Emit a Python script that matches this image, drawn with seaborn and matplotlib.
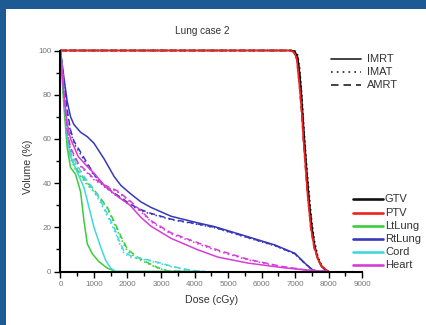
import numpy as np
import pandas as pd
import matplotlib
matplotlib.use("Agg")
import matplotlib.pyplot as plt
from matplotlib.lines import Line2D
from matplotlib.patches import Rectangle
from matplotlib.ticker import MultipleLocator
import seaborn as sns

# ---------------- data ----------------
structures = ["GTV", "PTV", "LtLung", "RtLung", "Cord", "Heart"]
plans = ["IMRT", "IMAT", "AMRT"]

gtv_dose = [0, 6900, 7000, 7080, 7140, 7200, 7250, 7300, 7360, 7430, 7500, 7580, 7680, 7800, 7900, 8000]
gtv_imrt = [100, 100, 99.5, 97, 90, 79, 67, 56, 44, 31, 21, 12.5, 6, 2.2, 0.7, 0]
gtv_imat = [100, 100, 99.8, 98, 92, 81, 69, 58, 46, 34, 23, 14, 7, 2.6, 0.8, 0]
gtv_amrt = [100, 100, 99.5, 96.5, 89, 77, 65, 54, 42, 30, 20, 11.5, 5.5, 2, 0.5, 0]

ptv_dose = [0, 6850, 6950, 7050, 7130, 7200, 7250, 7300, 7370, 7470, 7570, 7700, 7800, 7900, 8000]
ptv_imrt = [100, 100, 99.5, 96.5, 84.5, 72, 60, 50, 35.5, 20, 11, 5, 2.5, 1.2, 0]
ptv_imat = [100, 100, 99.6, 97, 85.5, 73, 61, 51, 36.5, 21, 11.5, 5.3, 2.6, 1.2, 0]
ptv_amrt = [100, 100, 99.3, 96, 84, 71, 59, 49, 35, 19.5, 10.5, 4.8, 2.3, 1.0, 0]

lt_dose = [0, 100, 200, 300, 450, 600, 700, 800, 950, 1150, 1400, 1650, 1800, 2000, 2300, 2600, 2900, 3200, 4000]
lt_imrt = [100, 75, 56, 47, 44, 36, 23, 12.5, 8, 4.4, 1.5, 0, 0, 0, 0, 0, 0, 0, 0]
lt_imat = [100, 78, 59, 51, 46, 43, 41, 39, 37, 33.5, 28.5, 20, 15, 9, 5.8, 3.6, 1.6, 0.2, 0]
lt_amrt = [100, 79, 60, 52, 47, 44, 42, 40, 38, 34, 29, 21, 16, 10, 6.5, 4, 1.8, 0.3, 0]

cord_dose = [0, 100, 200, 300, 500, 700, 850, 1000, 1200, 1350, 1500, 1650, 1750, 1900, 2100, 2600, 3000, 3300, 3700, 4000, 4300]
cord_imrt = [100, 80, 61, 52, 45, 38, 29, 20, 11, 5, 1.5, 0, 0, 0, 0, 0, 0, 0, 0, 0, 0]
cord_imat = [100, 81, 63, 53, 47, 42, 39, 36, 31, 26.5, 22, 17, 13, 8, 6.5, 5, 3.5, 2.2, 1, 0.3, 0]
cord_amrt = [100, 82, 64, 54, 48, 43, 40, 37, 32, 27.5, 23, 18, 14, 9, 7, 5.3, 3.8, 2.4, 1.1, 0.4, 0]

rt_dose = [0, 100, 200, 300, 400, 600, 800, 1000, 1300, 1600, 1800, 2074, 2400, 2700, 3300, 4100, 4600, 5600, 6400, 7000, 7300, 7500, 7650]
rt_imrt = [100, 88, 77, 70, 66.5, 63, 61, 58, 51, 43, 39, 35.4, 31.5, 29, 25, 22, 20.3, 15.7, 12, 8.2, 3.7, 1, 0]
rt_imat = [100, 85, 72, 63, 58, 53, 48, 43.5, 38.5, 35, 33, 30, 27.5, 26, 23.5, 21.3, 19.8, 15.2, 11.6, 7.9, 3.5, 0.9, 0]
rt_amrt = [100, 86, 73, 64, 59, 54, 49, 44, 39, 35.5, 33.5, 30.5, 28, 26.3, 23.7, 21.5, 20, 15.4, 11.8, 8, 3.6, 1, 0]

heart_dose = [0, 100, 200, 300, 530, 800, 1000, 1330, 1700, 2074, 2400, 2700, 3300, 4100, 4700, 5600, 6600, 7300, 8000]
heart_imrt = [100, 81, 67, 60, 52, 47.5, 44.5, 38.5, 34, 30, 24.5, 20.5, 15, 9.8, 6.5, 3.8, 1.8, 0.7, 0]
heart_imat = [100, 79, 63, 55, 48.5, 44.5, 41.5, 38.5, 36, 31.5, 27, 22.5, 17, 12.5, 9.2, 5.2, 2.1, 0.7, 0]
heart_amrt = [100, 80, 64, 56, 49, 45, 42, 39, 36.5, 32, 27.5, 23, 17.5, 13, 9.7, 5.5, 2.3, 0.8, 0]

series = {
    "GTV": (gtv_dose, gtv_imrt, gtv_imat, gtv_amrt),
    "PTV": (ptv_dose, ptv_imrt, ptv_imat, ptv_amrt),
    "LtLung": (lt_dose, lt_imrt, lt_imat, lt_amrt),
    "RtLung": (rt_dose, rt_imrt, rt_imat, rt_amrt),
    "Cord": (cord_dose, cord_imrt, cord_imat, cord_amrt),
    "Heart": (heart_dose, heart_imrt, heart_imat, heart_amrt),
}

colors = {"GTV": "#111111", "PTV": "#ee2222", "LtLung": "#3ccc3c",
          "RtLung": "#3838b8", "Cord": "#40d8e0", "Heart": "#d83cd8"}

rows = []
for s in structures:
    d, *vals = series[s]
    for p, v in zip(plans, vals):
        for x, y in zip(d, v):
            rows.append((s, p, x, y))
df = pd.DataFrame(rows, columns=["structure", "plan", "dose", "volume"])

# ---------------- style ----------------
sns.set_style("white")
plt.rcParams["font.family"] = ["Liberation Sans", "DejaVu Sans"]

W, H = 427, 325
fig = plt.figure(figsize=(W / 100, H / 100), dpi=100, facecolor="#1d5a93")
fig.patches.append(Rectangle((6 / W, 0), 1, (H - 9) / H, transform=fig.transFigure,
                             facecolor="white", edgecolor="none", zorder=-10))

x0, x1, ytop, ybot = 60.5, 362, 50.5, 271.5
ax = fig.add_axes([x0 / W, 1 - ybot / H, (x1 - x0) / W, (ybot - ytop) / H])
ax.set_facecolor("none")
ax.set_zorder(1)

dash_map = {"IMRT": "", "IMAT": (1, 2), "AMRT": (4, 2.5)}
sns.lineplot(data=df, x="dose", y="volume", hue="structure", style="plan",
             hue_order=structures, style_order=plans, palette=colors,
             dashes=dash_map, estimator=None, sort=False, legend=False,
             linewidth=1.1, clip_on=False, ax=ax)

ax.set_xlim(0, 9000)
ax.set_ylim(0, 100)
ax.set_xlabel("")
ax.set_ylabel("")
ax.xaxis.set_major_locator(MultipleLocator(1000))
ax.xaxis.set_minor_locator(MultipleLocator(500))
ax.yaxis.set_major_locator(MultipleLocator(20))
ax.yaxis.set_minor_locator(MultipleLocator(10))
ax.tick_params(which="major", direction="out", length=4, width=1, color="black",
               labelsize=5.8, labelcolor="#777777", pad=2.5)
ax.tick_params(which="minor", direction="out", length=3, width=1, color="black")
ax.tick_params(axis="both", which="both", bottom=True, left=True)
for side in ["top", "right"]:
    ax.spines[side].set_visible(False)
for side in ["left", "bottom"]:
    ax.spines[side].set_linewidth(1.5)
    ax.spines[side].set_color("black")
    ax.spines[side].set_zorder(3)

fig.text(202 / W, 1 - 31 / H, "Lung case 2", ha="center", va="center",
         fontsize=7.2, color="#333333")
fig.text(212 / W, 1 - 300 / H, "Dose (cGy)", ha="center", va="center",
         fontsize=7.6, color="#333333")
fig.text(28 / W, 1 - 167 / H, "Volume (%)", ha="center", va="center",
         rotation=90, fontsize=7.6, color="#333333")

# legend: plan line styles
ls_map = {"IMRT": "-", "IMAT": (0, (1, 2.5)), "AMRT": (0, (4.5, 3))}
for i, p in enumerate(plans):
    yy = 1 - (58.7 + 13.2 * i) / H
    fig.add_artist(Line2D([331 / W, 361 / W], [yy, yy], transform=fig.transFigure,
                          color="#222222", lw=1.2, linestyle=ls_map[p]))
    fig.text(367 / W, yy, p, ha="left", va="center", fontsize=8, color="#333333")

# legend: structures
for i, s in enumerate(structures):
    yy = 1 - (199.3 + 13.2 * i) / H
    fig.add_artist(Line2D([353 / W, 383 / W], [yy, yy], transform=fig.transFigure,
                          color=colors[s], lw=1.9))
    fig.text(385 / W, yy, s, ha="left", va="center", fontsize=8, color="#333333")

fig.savefig("out.png", dpi=100, facecolor=fig.get_facecolor())
